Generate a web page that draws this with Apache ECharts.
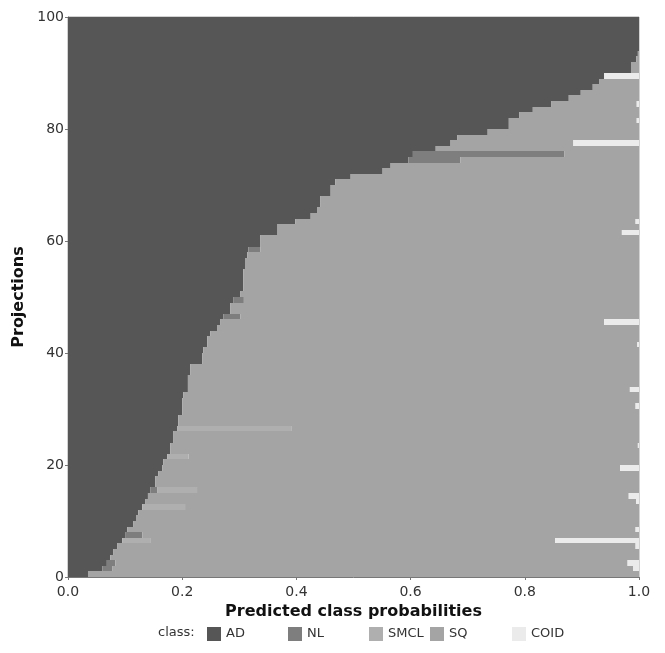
<!DOCTYPE html>
<html>
<head>
<meta charset="utf-8">
<script src="https://cdn.jsdelivr.net/npm/echarts@6/dist/echarts.min.js"></script>
<style>
  html, body { margin: 0; padding: 0; background: #fff; }
  #chart { width: 665px; height: 653px; }
</style>
</head>
<body>
<div id="chart"></div>
<script>
// 类别与每个投影的预测概率（自下而上 0..99）
const classNames = ['AD', 'NL', 'SMCL', 'SQ', 'COID'];
const classColors = ['#565656', '#7e7e7e', '#afafaf', '#a4a4a4', '#ebebeb'];
const yTicks = [0, 20, 40, 60, 80, 100];
const xTicks = [0, 0.2, 0.4, 0.6, 0.8, 1.0];

const adValues = [
  0.035, 0.060, 0.068, 0.074, 0.079, 0.086, 0.095, 0.100, 0.104, 0.114,
  0.120, 0.123, 0.130, 0.135, 0.140, 0.144, 0.153, 0.153, 0.158, 0.165,
  0.167, 0.174, 0.179, 0.179, 0.184, 0.184, 0.191, 0.193, 0.193, 0.200,
  0.200, 0.200, 0.202, 0.210, 0.210, 0.210, 0.214, 0.214, 0.235, 0.235,
  0.237, 0.244, 0.244, 0.249, 0.261, 0.267, 0.272, 0.284, 0.284, 0.290,
  0.302, 0.307, 0.307, 0.307, 0.307, 0.310, 0.310, 0.314, 0.316, 0.337,
  0.337, 0.367, 0.367, 0.398, 0.425, 0.437, 0.442, 0.442, 0.460, 0.460,
  0.468, 0.495, 0.551, 0.565, 0.596, 0.604, 0.644, 0.670, 0.682, 0.735,
  0.772, 0.772, 0.790, 0.814, 0.846, 0.877, 0.898, 0.919, 0.930, 0.939,
  0.986, 0.986, 0.995, 0.998, 1.000, 1.000, 1.000, 1.000, 1.000, 1.000
];
const nlValues = [
  0, 0.018, 0.015, 0, 0, 0, 0, 0.030, 0, 0,
  0, 0, 0, 0, 0, 0.012, 0, 0, 0, 0,
  0, 0, 0, 0, 0, 0, 0, 0, 0, 0,
  0, 0, 0, 0, 0, 0, 0, 0, 0, 0,
  0, 0, 0, 0, 0, 0, 0.030, 0, 0, 0.018,
  0, 0, 0, 0, 0, 0, 0, 0, 0.021, 0,
  0, 0, 0, 0, 0, 0, 0, 0, 0, 0,
  0, 0, 0, 0, 0.091, 0.265, 0, 0, 0, 0,
  0, 0, 0, 0, 0, 0, 0, 0, 0, 0,
  0, 0, 0, 0, 0, 0, 0, 0, 0, 0
];
const smclValues = [
  0, 0, 0, 0, 0, 0, 0.049, 0, 0, 0,
  0, 0, 0.075, 0, 0, 0.070, 0, 0, 0, 0,
  0, 0.037, 0, 0, 0, 0, 0.200, 0, 0, 0,
  0, 0, 0, 0, 0, 0, 0, 0, 0, 0,
  0, 0, 0, 0, 0, 0, 0, 0, 0, 0,
  0, 0, 0, 0, 0, 0, 0, 0, 0, 0,
  0, 0, 0, 0, 0, 0, 0, 0, 0, 0,
  0, 0, 0, 0, 0, 0, 0, 0, 0, 0,
  0, 0, 0, 0, 0, 0, 0, 0, 0, 0,
  0, 0, 0, 0, 0, 0, 0, 0, 0, 0
];
const sqValues = [
  0.965, 0.912, 0.897, 0.926, 0.921, 0.908, 0.709, 0.870, 0.890, 0.886,
  0.880, 0.877, 0.795, 0.860, 0.842, 0.774, 0.847, 0.847, 0.842, 0.802,
  0.833, 0.789, 0.821, 0.819, 0.816, 0.816, 0.609, 0.807, 0.807, 0.800,
  0.794, 0.800, 0.798, 0.774, 0.790, 0.790, 0.786, 0.786, 0.765, 0.765,
  0.763, 0.753, 0.756, 0.751, 0.739, 0.672, 0.698, 0.716, 0.716, 0.692,
  0.698, 0.693, 0.693, 0.693, 0.693, 0.690, 0.690, 0.686, 0.663, 0.663,
  0.663, 0.603, 0.633, 0.596, 0.575, 0.563, 0.558, 0.558, 0.540, 0.540,
  0.532, 0.505, 0.449, 0.435, 0.313, 0.131, 0.356, 0.215, 0.318, 0.265,
  0.228, 0.224, 0.210, 0.186, 0.150, 0.123, 0.102, 0.081, 0.070, 0,
  0.014, 0.014, 0.005, 0.002, 0, 0, 0, 0, 0, 0
];
const coidValues = [
  0, 0.010, 0.020, 0, 0, 0.006, 0.147, 0, 0.006, 0,
  0, 0, 0, 0.005, 0.018, 0, 0, 0, 0, 0.033,
  0, 0, 0, 0.002, 0, 0, 0, 0, 0, 0,
  0.006, 0, 0, 0.016, 0, 0, 0, 0, 0, 0,
  0, 0.003, 0, 0, 0, 0.061, 0, 0, 0, 0,
  0, 0, 0, 0, 0, 0, 0, 0, 0, 0,
  0, 0.030, 0, 0.006, 0, 0, 0, 0, 0, 0,
  0, 0, 0, 0, 0, 0, 0, 0.115, 0, 0,
  0, 0.004, 0, 0, 0.004, 0, 0, 0, 0, 0.061,
  0, 0, 0, 0, 0, 0, 0, 0, 0, 0
];

const seriesValues = [adValues, nlValues, smclValues, sqValues, coidValues];
const projections = adValues.map((v, i) => String(i));

const fontFamily = 'DejaVu Sans';
// 图例每项的左侧位置
const legendLefts = [207, 288, 369, 430, 512];

// 堆叠：每段 [起点, 终点, 行号]
let running = adValues.map(() => 0);
const stackedData = seriesValues.map(vals =>
  vals.map((v, i) => {
    const item = [running[i], running[i] + v, i];
    running[i] += v;
    return item;
  })
);

// 自定义矩形，行边界取整避免条纹缝隙
function renderSegment(params, api) {
  const start = api.value(0);
  const end = api.value(1);
  if (end - start <= 0) return null;
  const row = api.value(2);
  const p0 = api.coord([start, row]);
  const p1 = api.coord([end, row]);
  const h = api.size([0, 1])[1];
  const top = Math.round(p0[1] - h / 2);
  const bottom = Math.round(p0[1] + h / 2);
  return {
    type: 'rect',
    shape: { x: p0[0], y: top, width: p1[0] - p0[0], height: bottom - top },
    style: { fill: api.visual('color') }
  };
}

let myChart = echarts.init(document.getElementById('chart'), null, { renderer: 'canvas' });

let option = {
  animation: false,
  backgroundColor: '#fff',
  textStyle: { fontFamily: fontFamily },
  grid: {
    left: 68,
    right: 26,
    top: 17,
    bottom: 76,
    show: true,
    borderColor: '#a5a5a5',
    borderWidth: 1
  },
  legend: classNames.map((name, k) => ({
    data: [name],
    left: legendLefts[k],
    top: 627,
    padding: 0,
    icon: 'rect',
    itemWidth: 14,
    itemHeight: 14,
    itemGap: 0,
    selectedMode: false,
    textStyle: { color: '#333', fontSize: 13, fontFamily: fontFamily }
  })),
  graphic: [
    {
      type: 'text',
      left: 158,
      top: 626,
      style: { text: 'class:', fill: '#333', font: '13px "DejaVu Sans"' }
    }
  ],
  xAxis: {
    type: 'value',
    min: 0,
    max: 1,
    interval: 0.2,
    name: 'Predicted class probabilities',
    nameLocation: 'middle',
    nameGap: 22,
    nameTextStyle: { fontSize: 16, fontWeight: 'bold', color: '#111', fontFamily: fontFamily },
    axisLine: { show: true, lineStyle: { color: '#777' } },
    axisTick: { show: true, length: 3, lineStyle: { color: '#777' } },
    axisLabel: {
      fontSize: 14,
      color: '#333',
      margin: 8,
      formatter: v => (xTicks.indexOf(+v.toFixed(1)) >= 0 ? v.toFixed(1) : '')
    },
    splitLine: { show: false }
  },
  yAxis: [
    {
      type: 'category',
      data: projections,
      show: false
    },
    {
      type: 'value',
      position: 'left',
      min: 0,
      max: 100,
      interval: 20,
      name: 'Projections',
      nameLocation: 'middle',
      nameGap: 30,
      nameTextStyle: { fontSize: 16, fontWeight: 'bold', color: '#111', fontFamily: fontFamily },
      axisLine: { show: true, lineStyle: { color: '#777' } },
      axisTick: { show: true, length: 3, lineStyle: { color: '#777' } },
      axisLabel: { fontSize: 14, color: '#333', margin: 4, formatter: v => (yTicks.indexOf(v) >= 0 ? String(v) : '') },
      splitLine: { show: false }
    }
  ],
  series: classNames.map((name, k) => ({
    name: name,
    type: 'custom',
    yAxisIndex: 0,
    renderItem: renderSegment,
    encode: { x: [0, 1], y: 2 },
    itemStyle: { color: classColors[k] },
    data: stackedData[k]
  }))
};

myChart.setOption(option);
</script>
</body>
</html>
